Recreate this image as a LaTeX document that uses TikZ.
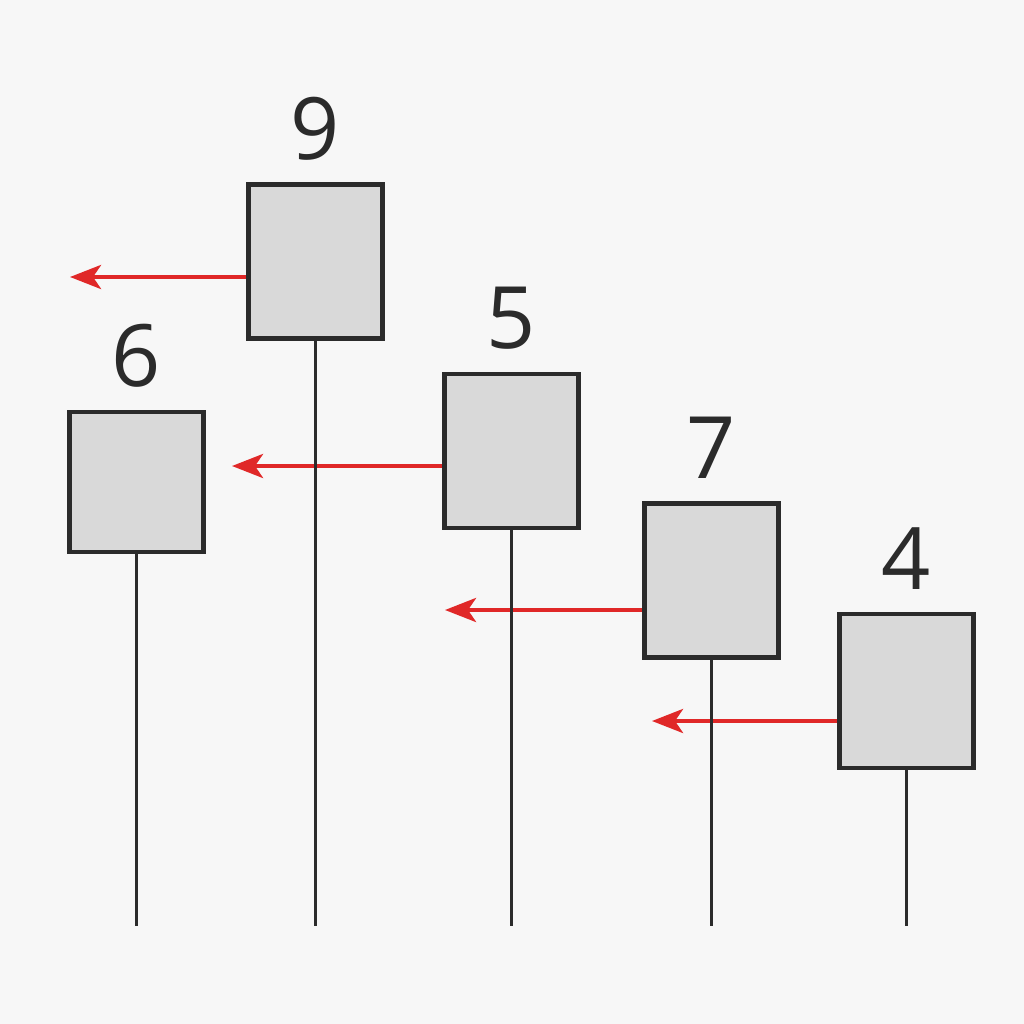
\documentclass[tikz,border=0pt]{standalone}
\usepackage{fontspec}
\setmainfont{Open Sans}
\usetikzlibrary{arrows.meta,positioning}
\definecolor{bg}{HTML}{F7F7F7}
\definecolor{ink}{HTML}{2B2B2B}
\definecolor{boxfill}{HTML}{D9D9D9}
\definecolor{arred}{HTML}{E02828}

\begin{document}
\begin{tikzpicture}[x=0.02cm,y=-0.02cm,
  font=\fontsize{49}{52}\selectfont,
  box/.style={draw=ink,fill=boxfill,line width=2.5pt,minimum width=2.68cm,
              minimum height=3.08cm,inner sep=0pt},
  num/.style={text=ink,inner sep=0pt,above=0.44cm of #1},
  pole/.style={draw=ink,line width=2.1pt},
  ar/.style={draw=arred,line width=2.5pt,-{Stealth[length=6.2mm,width=4.8mm,inset=1.6mm]}}]
\fill[bg] (0,0) rectangle (1024,1024);
% boxes
\node[box,minimum height=2.8cm] (b6) at (136.5,482) {};
\node[box] (b9) at (315.5,261.5) {};
\node[box] (b5) at (511.5,451) {};
\node[box] (b7) at (711.5,580.5) {};
\node[box] (b4) at (906.5,691) {};
\node[num=b6] (l6) {6};
\node[num=b9] (l9) {9};
\node[num=b5] (l5) {5};
\node[num=b7] (l7) {7};
\node[num=b4] (l4) {4};
% arrow tips
\coordinate (t9) at (70,277);
\coordinate (t5) at (232,466);
\coordinate (t7) at (445,610);
\coordinate (t4) at (652,721);
\draw[ar] (b9.west |- t9) -- (t9);
\draw[ar] (b5.west |- t5) -- (t5);
\draw[ar] (b7.west |- t7) -- (t7);
\draw[ar] (b4.west |- t4) -- (t4);
% poles
\foreach \b in {b6,b9,b5,b7,b4}
  \draw[pole] (\b.south) -- (\b.south |- 0,926);
\end{tikzpicture}
\end{document}
